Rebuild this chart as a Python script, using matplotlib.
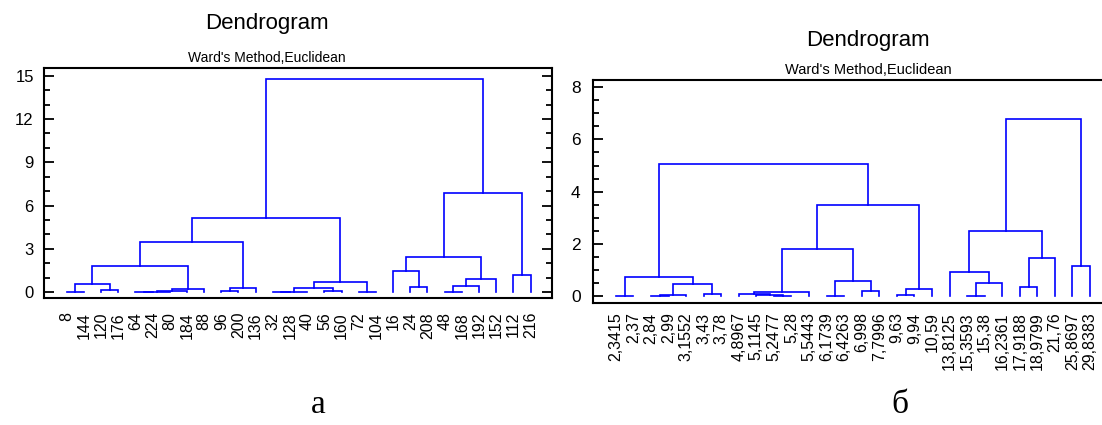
import matplotlib
matplotlib.use("Agg")
import matplotlib.pyplot as plt
from matplotlib.ticker import MultipleLocator

# ---------------- data ----------------
left_labels = ["8", "144", "120", "176", "64", "224", "80", "184", "88", "96", "200",
               "136", "32", "128", "40", "56", "160", "72", "104", "16", "24", "208",
               "48", "168", "192", "152", "112", "216"]
# merges: (node_a, node_b, height); node ids >= n refer to earlier merges (n + k)
left_merges = [
    (0, 1, 0.02), (4, 5, 0.01), (29, 6, 0.03), (30, 7, 0.10), (12, 13, 0.01),
    (32, 14, 0.02), (17, 18, 0.02), (22, 23, 0.02), (9, 10, 0.07), (15, 16, 0.07),
    (2, 3, 0.16), (31, 8, 0.19), (36, 11, 0.28), (20, 21, 0.35), (33, 37, 0.30),
    (35, 24, 0.44), (28, 38, 0.56), (42, 34, 0.72), (43, 25, 0.90), (26, 27, 1.16),
    (19, 41, 1.45), (44, 39, 1.81), (48, 46, 2.47), (49, 40, 3.49), (51, 45, 5.12),
    (50, 47, 6.86), (52, 53, 14.75),
]

right_labels = ["2,3415", "2,37", "2,84", "2,99", "3,1552", "3,43", "3,78", "4,8967",
                "5,1145", "5,2477", "5,28", "5,5443", "6,1739", "6,4263", "6,998",
                "7,7996", "9,63", "9,94", "10,59", "13,8125", "15,3593", "15,38",
                "16,2361", "17,9188", "18,9799", "21,76", "25,8697", "29,8383"]
right_merges = [
    (0, 1, 0.01), (2, 3, 0.01), (29, 4, 0.04), (5, 6, 0.09), (30, 31, 0.44),
    (28, 32, 0.72), (9, 10, 0.01), (8, 34, 0.02), (7, 35, 0.09), (36, 11, 0.15),
    (12, 13, 0.01), (14, 15, 0.19), (38, 39, 0.59), (37, 40, 1.80), (16, 17, 0.04),
    (42, 18, 0.28), (41, 43, 3.50), (33, 44, 5.05), (20, 21, 0.01), (46, 22, 0.48),
    (19, 47, 0.93), (23, 24, 0.34), (49, 25, 1.46), (48, 50, 2.48), (26, 27, 1.16),
    (51, 52, 6.77),
]

title = "Dendrogram"
subtitle = "Ward's Method,Euclidean"
panel_letters = ["а", "б"]

# ---------------- drawing ----------------
W, H = 1102, 425
fig = plt.figure(figsize=(W / 100, H / 100), dpi=100)
plt.rcParams['font.family'] = ['Liberation Sans', 'DejaVu Sans']

def draw_dendro(ax, merges, n):
    pos = {i: float(i) for i in range(n)}
    hgt = {i: 0.0 for i in range(n)}
    for k, (a, b, h) in enumerate(merges):
        xa, xb = pos[a], pos[b]
        ax.plot([xa, xa, xb, xb], [hgt[a], h, h, hgt[b]], color='#0000ff', lw=1.2,
                solid_joinstyle='miter')
        pos[n + k] = (xa + xb) / 2
        hgt[n + k] = h

def style_axes(ax, labels, ylim, major, minor, fs_x, fs_y, xpad, ypad):
    n = len(labels)
    ax.set_xlim(-1.35, n - 1 + 1.25)
    ax.set_ylim(*ylim)
    ax.set_xticks(range(n))
    ax.set_xticklabels(labels, rotation=90, fontsize=fs_x)
    ax.yaxis.set_major_locator(MultipleLocator(major))
    ax.yaxis.set_minor_locator(MultipleLocator(minor))
    ax.tick_params(axis='x', length=0, pad=xpad)
    ax.tick_params(axis='y', which='major', direction='in', length=7, width=1.3,
                   left=True, right=True, labelsize=fs_y, pad=ypad)
    ax.tick_params(axis='y', which='minor', direction='in', length=4, width=1.3,
                   left=True, right=True)
    for s in ax.spines.values():
        s.set_linewidth(1.5)

# left panel
axL = fig.add_axes([43.5 / W, (H - 298) / H, 508.5 / W, (298 - 68) / H])
draw_dendro(axL, left_merges, len(left_labels))
style_axes(axL, left_labels, (-0.4, 15.53), 3, 1, 11.5, 12, 10, 7)
axL.set_yticks([0, 3, 6, 9, 12, 15])

# right panel
axR = fig.add_axes([593 / W, (H - 302.7) / H, (1112 - 593) / W, (302.7 - 80) / H])
draw_dendro(axR, right_merges, len(right_labels))
style_axes(axR, right_labels, (-0.26, 8.28), 2, 0.5, 11.5, 12.5, 7, 9)
axR.set_xlim(-1.3, len(right_labels) - 1 + 1.25)

# titles
fig.text(267 / W, 1 - 29 / H, title, ha='center', va='baseline', fontsize=16)
fig.text(267 / W, 1 - 62 / H, subtitle, ha='center', va='baseline', fontsize=10)
fig.text(868 / W, 1 - 46 / H, title, ha='center', va='baseline', fontsize=16)
fig.text(868 / W, 1 - 74 / H, subtitle, ha='center', va='baseline', fontsize=10.5)

# panel letters
fig.text(318 / W, 1 - 413 / H, panel_letters[0], ha='center', va='baseline',
         fontsize=24, family='Liberation Serif')
fig.text(900 / W, 1 - 413 / H, panel_letters[1], ha='center', va='baseline',
         fontsize=24, family='Liberation Serif')

fig.savefig("out.png", dpi=100)
